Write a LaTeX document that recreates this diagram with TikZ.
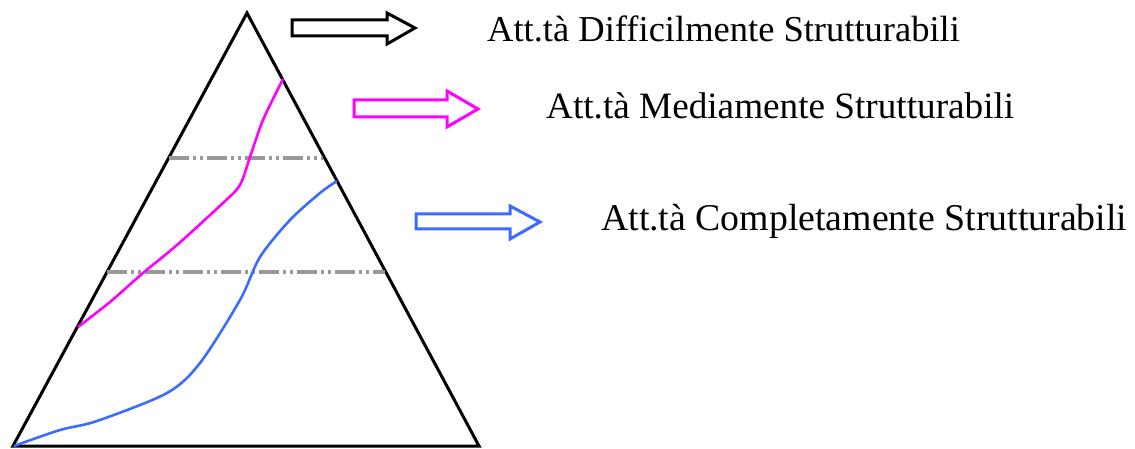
\documentclass[tikz,border=0pt]{standalone}
\usepackage{fontspec}
\setmainfont{Liberation Serif}
\definecolor{mag}{HTML}{FF00FF}
\definecolor{blu}{HTML}{3D6BFF}
\definecolor{gry}{HTML}{999999}
\begin{document}
\begin{tikzpicture}[x=1pt,y=-1pt,
  tri/.style={line width=3pt,black,line join=miter},
  sep/.style={line width=4.5pt,gry,dash pattern=on 20pt off 4pt on 3pt off 4pt on 3pt off 4pt},
  curv/.style={line width=2.6pt,line join=round},
  outarrow/.style={line width=3pt,fill=white,line join=miter},
  lbl/.style={anchor=base west,inner sep=0pt}]
\useasboundingbox (0,0) rectangle (1135,449);
% triangle
\coordinate (apex) at (247,13);
\coordinate (bl) at (13,446);
\coordinate (br) at (479,446);
\draw[tri] (bl) -- (apex) -- (br) -- cycle;
% separators
\coordinate (s1a) at (169,158); \coordinate (s1b) at (323,158);
\coordinate (s2a) at (107,272); \coordinate (s2b) at (385,272);
\draw[sep] (s1a) -- (s1b);
\draw[sep] (s2a) -- (s2b);
% curves
\draw[curv,mag] plot[smooth,tension=0.5] coordinates {(78,327) (110,302) (143,273) (177,245) (223,203) (240,185) (250,157) (263,120) (283,79)};
\draw[curv,blu] plot[smooth,tension=0.5] coordinates {(14,446) (60,430) (97,421) (167,393) (200,363) (240,300) (260,257) (290,220) (320,193) (337,181)};
% arrows
\draw[outarrow,draw=black] (292,20) -- (387,20) -- (387,13) -- (415,28) -- (387,44) -- (387,36) -- (292,36) -- cycle;
\draw[outarrow,draw=mag] (354,100) -- (447,100) -- (447,91) -- (478,109) -- (447,127) -- (447,117) -- (354,117) -- cycle;
\draw[outarrow,draw=blu] (416,214) -- (510,214) -- (510,206) -- (540,222) -- (510,239) -- (510,229) -- (416,229) -- cycle;
% labels
\node[lbl,font=\fontsize{36.5}{40}\selectfont] (t1) at (487,42) {Att.tà Difficilmente Strutturabili};
\node[lbl,font=\fontsize{37.2}{40}\selectfont] (t2) at (546,119) {Att.tà Mediamente Strutturabili};
\node[lbl,font=\fontsize{37.8}{40}\selectfont] (t3) at (601,230) {Att.tà Completamente Strutturabili};
\end{tikzpicture}
\end{document}
